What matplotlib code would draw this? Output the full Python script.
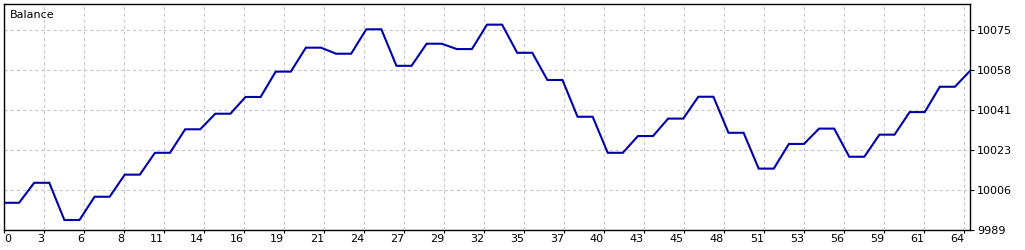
import numpy as np
import matplotlib
matplotlib.use('Agg')
import matplotlib.pyplot as plt

# balance after each deal point (open / close pairs)
balance = [10000.7, 10000.7, 10009.3, 10009.3, 9993.3, 9993.3, 10003.3, 10003.3,
           10012.8, 10012.8, 10022.2, 10022.2, 10032.3, 10032.3, 10039.0, 10039.0,
           10046.2, 10046.2, 10057.1, 10057.1, 10067.4, 10067.4, 10064.8, 10064.8,
           10075.3, 10075.3, 10059.6, 10059.6, 10069.1, 10069.1, 10066.8, 10066.8,
           10077.3, 10077.3, 10065.2, 10065.2, 10053.5, 10053.5, 10037.7, 10037.7,
           10022.2, 10022.2, 10029.4, 10029.4, 10036.9, 10036.9, 10046.3, 10046.3,
           10030.8, 10030.8, 10015.4, 10015.4, 10026.0, 10026.0, 10032.6, 10032.6,
           10020.5, 10020.5, 10030.0, 10030.0, 10039.7, 10039.7, 10050.6, 10050.6,
           10057.4]
xlabels = ['0', '3', '6', '8', '11', '14', '16', '19', '21', '24', '27', '29', '32',
           '35', '37', '40', '43', '45', '48', '51', '53', '56', '59', '61', '64']
ylabels = ['9989', '10006', '10023', '10041', '10058', '10075']
y0, ystep = 9989.0, 17.2

idx = np.arange(len(balance))

fig = plt.figure(figsize=(10.25, 2.5), dpi=100)
ax = fig.add_axes([4 / 1025, 20 / 250, 966 / 1025, 225.7 / 250])

ax.plot(idx, balance, color='#0000aa', lw=1.5, solid_joinstyle='miter')

xmax = len(balance) - 1
xstep = xmax * 40 / 966
ax.set_xlim(0, xmax)
ax.set_ylim(y0, y0 + ystep * 225.7 / 40)

xt = np.arange(len(xlabels)) * xstep
yt = y0 + np.arange(len(ylabels)) * ystep
ax.set_xticks(xt)
ax.set_xticklabels(xlabels, fontsize=8)
for i, lab in enumerate(ax.get_xticklabels()):
    lab.set_ha('left' if i == 0 else 'right')
ax.set_yticks(yt)
ax.set_yticklabels(ylabels, fontsize=8)
ax.yaxis.tick_right()
ax.tick_params(axis='x', length=2, pad=1, width=0.8)
ax.tick_params(axis='y', length=3, pad=2, width=0.8)

ax.grid(True, color='#c8c8c8', linestyle=(0, (3, 2.5)), lw=0.8)
for s in ax.spines.values():
    s.set_color('black')
    s.set_linewidth(1.0)

ax.text(6 / 966, 1 - 11 / 225.7, 'Balance', transform=ax.transAxes,
        fontsize=8, ha='left', va='center')

fig.savefig('out.png', dpi=100)
